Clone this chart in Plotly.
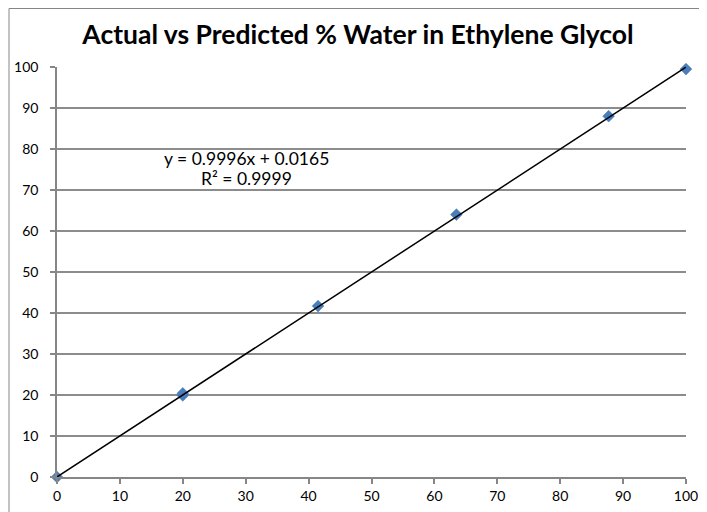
import plotly.graph_objects as go

actual = [0, 20, 20, 41.5, 63.5, 87.7, 100]
predicted = [0, 19.9, 20.4, 41.7, 64.0, 88.0, 99.5]
slope = 0.9996
intercept = 0.0165
r2 = 0.9999
trend_x = [0, 100]
trend_y = [slope * v + intercept for v in trend_x]
ticks = list(range(0, 101, 10))

# page has an 8px body margin; figure sized to fill the rest of the window
W, H = 699, 504
L, R, T, B = 49, 21, 59, 35
pw, ph = W - L - R, H - T - B

fig = go.Figure()
fig.add_trace(go.Scatter(x=actual, y=predicted, mode="markers",
                         marker=dict(symbol="diamond", size=9, color="#4a7ebb",
                                     line=dict(width=0.5, color="#3d6fae")),
                         showlegend=False, cliponaxis=False))
fig.add_trace(go.Scatter(x=trend_x, y=trend_y, mode="lines",
                         line=dict(color="black", width=1.5),
                         showlegend=False, cliponaxis=False))

font = "Lato, 'Open Sans', sans-serif"
fig.update_layout(
    width=W, height=H,
    margin=dict(l=L, r=R, t=T, b=B, autoexpand=False),
    paper_bgcolor="white", plot_bgcolor="white",
    font=dict(family=font, color="black", size=14),
    title=dict(text="<b>Actual vs Predicted % Water in Ethylene Glycol</b>",
               x=350 / W, xanchor="center", y=1 - 27 / H, yanchor="middle",
               font=dict(size=26.5, family=font, color="black")),
    xaxis=dict(range=[0, 100], tickvals=ticks, showgrid=False, zeroline=False,
               showline=True, linecolor="#868686", linewidth=1.5,
               ticks="outside", ticklen=5, tickcolor="#868686", tickwidth=1.5,
               automargin=False, tickfont=dict(size=14)),
    yaxis=dict(range=[0, 100], tickvals=ticks, showgrid=True, gridcolor="#8c8c8c",
               gridwidth=1.5, zeroline=False,
               showline=True, linecolor="#868686", linewidth=1.5,
               ticks="outside", ticklen=5, tickcolor="#868686", tickwidth=1.5,
               ticklabelstandoff=9, automargin=False,
               tickfont=dict(size=14)),
    annotations=[
        dict(text=f"y = {slope}x + {intercept}", x=30.05, y=77.8, xref="x", yref="y",
             showarrow=False, font=dict(size=17.5, family=font)),
        dict(text=f"R² = {r2}", x=30.1, y=72.9, xref="x", yref="y",
             showarrow=False, font=dict(size=17.5, family=font)),
    ],
    shapes=[dict(type="rect", xref="paper", yref="paper",
                 x0=(1 - L) / pw, x1=1.2, y0=-0.3, y1=(H - B - 0.5) / ph,
                 line=dict(color="#868686", width=1), layer="below")],
)
fig.write_html("out.html")
